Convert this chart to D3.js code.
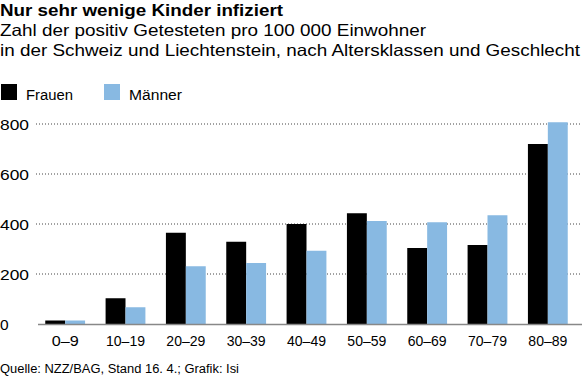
<!DOCTYPE html>
<html><head><meta charset="utf-8">
<script src="https://cdn.jsdelivr.net/npm/d3@7"></script>
<style>body{margin:0;background:#fff}svg{display:block}text{font-family:"Liberation Sans",Arial,sans-serif;fill:#000}</style>
</head><body><svg id="c" width="582" height="383"></svg>
<script>
const categories = ["0–9","10–19","20–29","30–39","40–49","50–59","60–69","70–79","80–89"];
const frauen = [14,103,365,329,400,443,304,316,720];
const maenner = [14,67,231,244,293,412,407,435,807];
const seriesNames = ["Frauen","Männer"];
const colors = ["#000000","#88b9e2"];
const yTicks = [0,200,400,600,800];

const svg = d3.select("#c");
function txt(x,y,size,s,len,weight){
  const t = svg.append("text").attr("x",x).attr("y",y).attr("font-size",size).text(s);
  if(weight) t.attr("font-weight",weight);
  if(len) t.attr("textLength",len).attr("lengthAdjust","spacingAndGlyphs");
  return t;
}
txt(0,15.5,17,"Nur sehr wenige Kinder infiziert",283,700);
txt(0,36,16.5,"Zahl der positiv Getesteten pro 100 000 Einwohner",426);
txt(0,55.5,16.5,"in der Schweiz und Liechtenstein, nach Altersklassen und Geschlecht",580);

[[1,26,47],[104,129,53]].forEach((p,i)=>{
  svg.append("rect").attr("x",p[0]).attr("y",84).attr("width",16).attr("height",16).attr("fill",colors[i]);
  txt(p[1],99.5,15.5,seriesNames[i],p[2]);
});

const y = d3.scaleLinear().domain([0,800]).range([324,124]);
const x0 = d3.scaleBand().domain(categories).range([35,578]).paddingInner(0.34).paddingOuter(0.17);
const x1 = d3.scaleBand().domain(seriesNames).range([0,x0.bandwidth()]);

yTicks.forEach(t=>{
  if(t>0) svg.append("line").attr("x1",36).attr("x2",582).attr("y1",y(t)).attr("y2",y(t))
    .attr("stroke","#444").attr("stroke-width",1).attr("stroke-dasharray","1,2");
  txt(0,y(t)+5.5,15.5,String(t),t===0?null:29);
});

const data = categories.map((c,i)=>({c, v:[frauen[i],maenner[i]]}));
const g = svg.append("g").selectAll("g").data(data).join("g").attr("transform",d=>`translate(${x0(d.c)},0)`);
g.selectAll("rect").data(d=>d.v.map((v,j)=>({v,s:seriesNames[j],j}))).join("rect")
  .attr("x",d=>x1(d.s)).attr("width",x1.bandwidth()).attr("y",d=>y(d.v)).attr("height",d=>y(0)-y(d.v))
  .attr("fill",d=>colors[d.j]);

svg.append("line").attr("x1",38).attr("x2",582).attr("y1",y(0)+0.5).attr("y2",y(0)+0.5).attr("stroke","#888").attr("stroke-width",1.5);

const xa = svg.append("g").attr("transform","translate(0,324)").call(d3.axisBottom(x0).tickSize(0).tickPadding(11));
xa.select(".domain").remove();
xa.selectAll("text").attr("font-size",15.5).attr("font-family","'Liberation Sans',Arial,sans-serif").attr("fill","#000")
  .attr("textLength",d=>d.length<4?27:39).attr("lengthAdjust","spacingAndGlyphs");

txt(0,373,12.5,"Quelle: NZZ/BAG, Stand 16. 4.; Grafik: Isi",239);
</script></body></html>
